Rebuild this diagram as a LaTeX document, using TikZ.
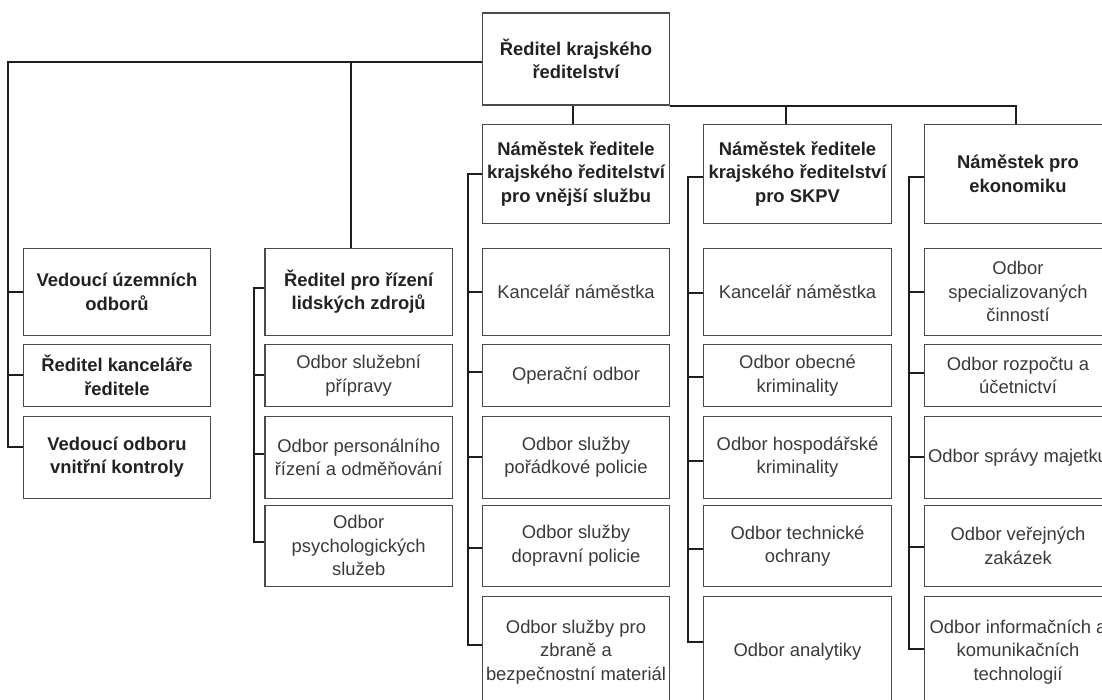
\documentclass[tikz,border=0pt]{standalone}
\usepackage{fontspec}
\setmainfont{Liberation Sans}
\definecolor{boxgray}{HTML}{4A4A4A}
\definecolor{txtreg}{HTML}{3A3A3A}
\definecolor{txtbold}{HTML}{222222}
\definecolor{linecol}{HTML}{1E1E1E}
\begin{document}
\begin{tikzpicture}[x=1pt,y=-1pt,
  box/.style={draw=boxgray, line width=1.1pt, fill=white, minimum width=187.5pt,
    align=center, inner sep=0pt, text=txtreg,
    font=\fontsize{18.4}{23.5}\selectfont},
  bbox/.style={box, text=txtbold, font=\fontsize{18.4}{23.5}\selectfont\bfseries},
  hH/.style={minimum height=99pt},
  h1/.style={minimum height=86.7pt},
  h2/.style={minimum height=61.3pt},
  h3/.style={minimum height=82.3pt},
  h4/.style={minimum height=81.7pt},
  h5/.style={minimum height=110pt},
  conn/.style={draw=linecol, line width=2pt}]
\useasboundingbox (0,0) rectangle (1102,699);
\clip (0,0) rectangle (1102,699);
\fill[white] (0,0) rectangle (1102,699);

% top
\node[bbox, minimum height=92pt] (top) at (576,59) {Ředitel krajského\\ředitelství};

% column 1
\node[bbox,h1] (v1) at (117,291.7) {Vedoucí územních\\odborů};
\node[bbox,h2] (v2) at (117,375.4) {Ředitel kanceláře\\ředitele};
\node[bbox,h3] (v3) at (117,457.2) {Vedoucí odboru\\vnitřní kontroly};

% column 2
\node[bbox,h1] (hr) at (358.7,291.7) {Ředitel pro řízení\\lidských zdrojů};
\node[box,h2] (p1) at (358.7,375.4) {Odbor služební\\přípravy};
\node[box,h3] (p2) at (358.7,457.2) {Odbor personálního\\řízení a odměňování};
\node[box,h4] (p3) at (358.7,545.9) {Odbor\\psychologických\\služeb};

% column 3
\node[bbox,hH] (c3h) at (576,173.8) {Náměstek ředitele\\krajského ředitelství\\pro vnější službu};
\node[box,h1] (c3r1) at (576,291.7) {Kancelář náměstka};
\node[box,h2] (c3r2) at (576,375.4) {Operační odbor};
\node[box,h3] (c3r3) at (576,457.2) {Odbor služby\\pořádkové policie};
\node[box,h4] (c3r4) at (576,545.9) {Odbor služby\\dopravní policie};
\node[box,h5] (c3r5) at (576,651.7) {Odbor služby pro\\zbraně a\\bezpečnostní materiál};

% column 4
\node[bbox,hH] (c4h) at (797.5,173.8) {Náměstek ředitele\\krajského ředitelství\\pro SKPV};
\node[box,h1] (c4r1) at (797.5,291.7) {Kancelář náměstka};
\node[box,h2] (c4r2) at (797.5,375.4) {Odbor obecné\\kriminality};
\node[box,h3] (c4r3) at (797.5,457.2) {Odbor hospodářské\\kriminality};
\node[box,h4] (c4r4) at (797.5,545.9) {Odbor technické\\ochrany};
\node[box,h5] (c4r5) at (797.5,651.7) {Odbor analytiky};

% column 5
\node[bbox,hH] (c5h) at (1018,173.8) {Náměstek pro\\ekonomiku};
\node[box,h1] (c5r1) at (1018,291.7) {Odbor\\specializovaných\\činností};
\node[box,h2] (c5r2) at (1018,375.4) {Odbor rozpočtu a\\účetnictví};
\node[box,h3] (c5r3) at (1018,457.2) {Odbor správy majetku};
\node[box,h4] (c5r4) at (1018,545.9) {Odbor veřejných\\zakázek};
\node[box,h5] (c5r5) at (1018,651.7) {Odbor informačních a\\komunikačních\\technologií};

% main connectors from top
\draw[conn] ([yshift=-2.7]top.west) -| ([xshift=-14.3]v1.west) |- ([yshift=10]v3.west);
\draw[conn] (v1.west) -- ++(-14.3,0);
\draw[conn] (v2.west) -- ++(-14.3,0);
\draw[conn] ([xshift=-7.7]hr.north) |- ([yshift=-2.7]top.west);

% column 2 trunk
\draw[conn] ([yshift=4]hr.west) -- ++(-10,0) |- ([yshift=4.2]p3.west);
\draw[conn] (p1.west) -- ++(-10,0);
\draw[conn] ([yshift=3.2]p2.west) -- ++(-10,0);

% top to deputies
\draw[conn] (top.south east) -| ([xshift=-2.3]c5h.north);
\draw[conn] ([xshift=-2.7]c3h.north) -- ([xshift=-2.7]top.south);
\draw[conn] ([xshift=-11.5]c4h.north) |- (top.south east);

% column 3 trunk
\draw[conn] (c3h.west) -- ++(-13.7,0) |- ([yshift=6.7]c3r5.west);
\draw[conn] ([yshift=-0.6]c3r1.west) -- ++(-13.7,0);
\draw[conn] ([yshift=3.7]c3r2.west) -- ++(-13.7,0);
\draw[conn] (c3r3.west) -- ++(-13.7,0);
\draw[conn] ([yshift=-2.4]c3r4.west) -- ++(-13.7,0);

% column 4 trunk
\draw[conn] ([yshift=-3.5]c4h.west) -- ++(-15.7,0) |- ([yshift=9.4]c4r5.west);
\draw[conn] ([yshift=-1.6]c4r1.west) -- ++(-15.7,0);
\draw[conn] ([yshift=-1.9]c4r2.west) -- ++(-15.7,0);
\draw[conn] ([yshift=-3.5]c4r3.west) -- ++(-15.7,0);
\draw[conn] ([yshift=-3.4]c4r4.west) -- ++(-15.7,0);

% column 5 trunk
\draw[conn] ([yshift=-3.5]c5h.west) -- ++(-14.3,0) |- ([yshift=2.7]c5r5.west);
\draw[conn] ([yshift=-0.6]c5r1.west) -- ++(-14.3,0);
\draw[conn] ([yshift=2.1]c5r2.west) -- ++(-14.3,0);
\draw[conn] ([yshift=0.5]c5r3.west) -- ++(-14.3,0);
\draw[conn] ([yshift=-1.4]c5r4.west) -- ++(-14.3,0);
\end{tikzpicture}
\end{document}
